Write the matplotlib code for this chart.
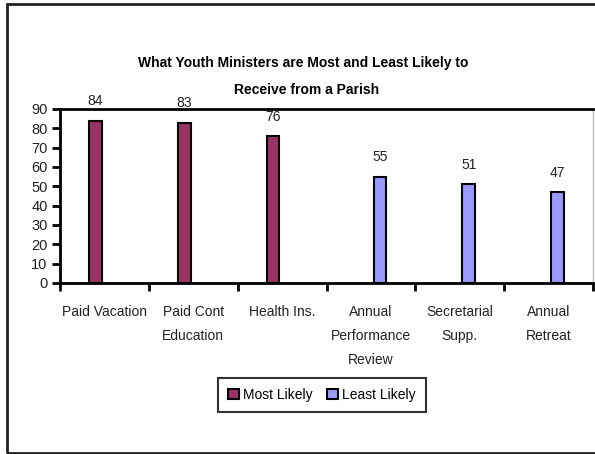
import numpy as np
import matplotlib.pyplot as plt
from matplotlib.patches import Rectangle, Patch

plt.rcParams['font.family'] = ['Liberation Sans', 'DejaVu Sans']

# 数据
categories = ["Paid Vacation", "Paid Cont\nEducation", "Health Ins.",
              "Annual\nPerformance\nReview", "Secretarial\nSupp.", "Annual\nRetreat"]
most_likely = [84, 83, 76, 0, 0, 0]
least_likely = [0, 0, 0, 55, 51, 47]
y_ticks = [0, 10, 20, 30, 40, 50, 60, 70, 80, 90]

fig = plt.figure(figsize=(5.95, 4.54), dpi=100)
ax = fig.add_axes([60 / 595, 1 - 283 / 454, 533 / 595, 174 / 454])

x = np.arange(len(categories))
w = 0.14
b1 = ax.bar(x - 0.1, most_likely, w, color='#993366', edgecolor='black', linewidth=1.5)
b2 = ax.bar(x + 0.1, least_likely, w, color='#9999FF', edgecolor='black', linewidth=1.5)

# 零高度的柱子不画边框
for p in list(b1) + list(b2):
    if p.get_height() == 0:
        p.set_visible(False)

# 数值标签
for i in range(len(categories)):
    if most_likely[i] > 0:
        ax.annotate(str(most_likely[i]), (x[i] - 0.1, most_likely[i]), xytext=(0, 14),
                    textcoords='offset points', ha='center', va='center', fontsize=10,
                    color='#222222')
    if least_likely[i] > 0:
        ax.annotate(str(least_likely[i]), (x[i] + 0.1, least_likely[i]), xytext=(0, 14),
                    textcoords='offset points', ha='center', va='center', fontsize=10,
                    color='#222222')

ax.set_xlim(-0.5, len(categories) - 0.5)
ax.set_ylim(0, 90)
ax.set_yticks(y_ticks)
ax.tick_params(axis='y', direction='out', length=6, width=2, labelsize=10.5, pad=3,
               labelcolor='#222222')
ax.set_xticks(x)
ax.set_xticklabels(categories, fontsize=10, color='#222222', linespacing=1.9, va='top')
ax.tick_params(axis='x', which='major', length=0, pad=16)
ax.set_xticks(np.arange(-0.5, len(categories), 1), minor=True)
ax.tick_params(axis='x', which='minor', direction='out', length=6, width=2)

for s in ['left', 'bottom', 'top']:
    ax.spines[s].set_linewidth(2)
ax.spines['right'].set_color('#bbbbbb')
ax.spines['right'].set_linewidth(1)

fig.text(0.51, 1 - 63 / 454, "What Youth Ministers are Most and Least Likely to",
         ha='center', va='center', fontsize=10, fontweight='bold')
fig.text(0.515, 1 - 90 / 454, "Receive from a Parish",
         ha='center', va='center', fontsize=10, fontweight='bold')

handles = [Patch(facecolor='#993366', edgecolor='black', linewidth=1.5, label='Most Likely'),
           Patch(facecolor='#9999FF', edgecolor='black', linewidth=1.5, label='Least Likely')]
leg = fig.legend(handles=handles, loc='center', bbox_to_anchor=(322 / 595, 1 - 395 / 454),
                 ncol=2, fontsize=10, frameon=True, fancybox=False, handlelength=0.8,
                 handleheight=0.8, handletextpad=0.3, columnspacing=1.0, borderpad=0.7)
leg.get_frame().set_edgecolor('black')
leg.get_frame().set_linewidth(1.5)

# 外框
fig.patches.append(Rectangle((7 / 595, 1 / 454), 1.0, 449 / 454, transform=fig.transFigure,
                             fill=False, edgecolor='#222222', linewidth=2))

fig.savefig('out.png', dpi=100)
